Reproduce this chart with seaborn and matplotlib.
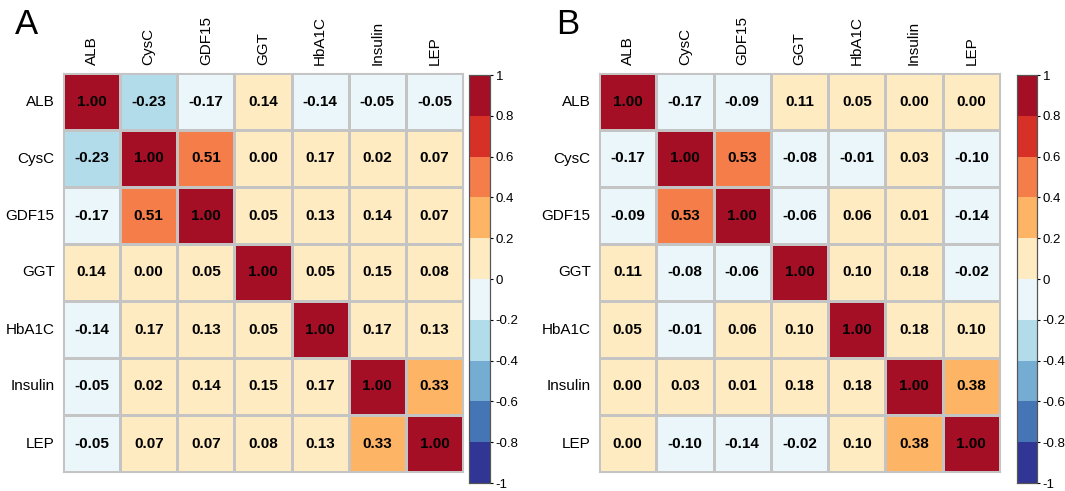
import numpy as np
import pandas as pd
import matplotlib
matplotlib.use("Agg")
import matplotlib.pyplot as plt
from matplotlib.colors import ListedColormap, BoundaryNorm
import seaborn as sns

labels = ["ALB", "CysC", "GDF15", "GGT", "HbA1C", "Insulin", "LEP"]

# panel A correlations
corr_a = [
    [1.00, -0.23, -0.17, 0.14, -0.14, -0.05, -0.05],
    [-0.23, 1.00, 0.51, 0.00, 0.17, 0.02, 0.07],
    [-0.17, 0.51, 1.00, 0.05, 0.13, 0.14, 0.07],
    [0.14, 0.00, 0.05, 1.00, 0.05, 0.15, 0.08],
    [-0.14, 0.17, 0.13, 0.05, 1.00, 0.17, 0.13],
    [-0.05, 0.02, 0.14, 0.15, 0.17, 1.00, 0.33],
    [-0.05, 0.07, 0.07, 0.08, 0.13, 0.33, 1.00],
]

# panel B correlations
corr_b = [
    [1.00, -0.17, -0.09, 0.11, 0.05, 0.00, 0.00],
    [-0.17, 1.00, 0.53, -0.08, -0.01, 0.03, -0.10],
    [-0.09, 0.53, 1.00, -0.06, 0.06, 0.01, -0.14],
    [0.11, -0.08, -0.06, 1.00, 0.10, 0.18, -0.02],
    [0.05, -0.01, 0.06, 0.10, 1.00, 0.18, 0.10],
    [0.00, 0.03, 0.01, 0.18, 0.18, 1.00, 0.38],
    [0.00, -0.10, -0.14, -0.02, 0.10, 0.38, 1.00],
]

cbar_ticks = [-1, -0.8, -0.6, -0.4, -0.2, 0, 0.2, 0.4, 0.6, 0.8, 1]
cbar_ticklabels = ["-1", "-0.8", "-0.6", "-0.4", "-0.2", "0", "0.2", "0.4", "0.6", "0.8", "1"]

colors = ["#313695", "#4575B4", "#74ADD1", "#B3DCEA", "#EAF6F9",
          "#FEEBC1", "#FDB465", "#F47D4A", "#D73027", "#A50F26"]
cmap = ListedColormap(colors)
norm = BoundaryNorm(np.linspace(-1, 1, 11), cmap.N)

plt.rcParams["font.family"] = ["Liberation Sans", "DejaVu Sans"]

W, H = 1065, 491
fig = plt.figure(figsize=(W / 100, H / 100), dpi=100)


def px(x0, y0, x1, y1):
    return [x0 / W, 1 - y1 / H, (x1 - x0) / W, (y1 - y0) / H]


def panel(data, hm_box, cb_box, letter, letter_xy):
    df = pd.DataFrame(data, index=labels, columns=labels)
    ax = fig.add_axes(px(*hm_box))
    cax = fig.add_axes(px(*cb_box))
    sns.heatmap(df, ax=ax, cbar_ax=cax, cmap=cmap, norm=norm,
                annot=True, fmt=".2f",
                annot_kws={"fontsize": 11, "fontweight": "bold", "color": "black"},
                linewidths=0.8, linecolor="#C4C4C4", square=False)
    ax.xaxis.tick_top()
    ax.set_xticklabels(labels, rotation=90, fontsize=11)
    ax.set_yticklabels(labels, rotation=0, fontsize=11)
    ax.tick_params(length=0, pad=6)
    ax.set_xlabel("")
    ax.set_ylabel("")
    for s in ax.spines.values():
        s.set_visible(True)
        s.set_color("#C4C4C4")
        s.set_linewidth(0.8)
    cax.set_yticks(cbar_ticks)
    cax.set_yticklabels(cbar_ticklabels, fontsize=9.5)
    cax.tick_params(length=2.5, width=0.8, pad=1.5)
    for s in cax.spines.values():
        s.set_visible(True)
        s.set_color("#555555")
        s.set_linewidth(0.8)
    fig.text(letter_xy[0] / W, 1 - letter_xy[1] / H, letter, fontsize=25,
             ha="left", va="center")


panel(corr_a, (63, 73, 463, 472), (469, 75, 490, 483), "A", (15, 24))
panel(corr_b, (599, 73, 1000, 472), (1017, 75, 1037, 483), "B", (556, 24))

fig.savefig("out.png", dpi=100)
